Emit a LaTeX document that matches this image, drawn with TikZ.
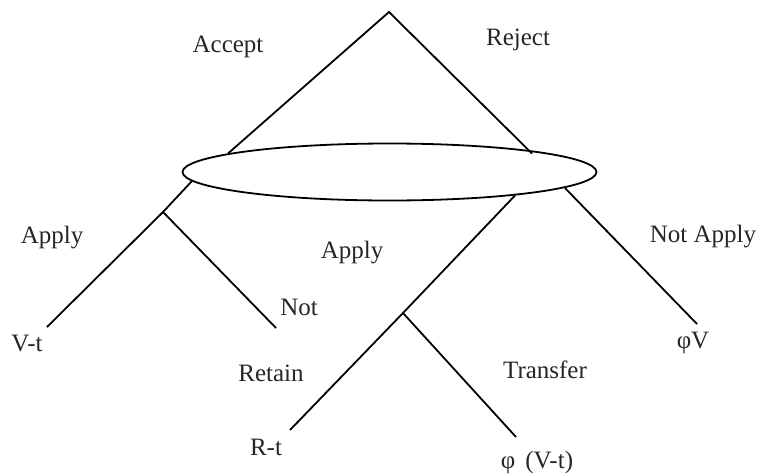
\documentclass[tikz,border=0pt]{standalone}
\usepackage{fontspec}
\setmainfont{Liberation Serif}
\usetikzlibrary{shapes.geometric}
\begin{document}
\begin{tikzpicture}[x=1pt,y=-1pt,
  branch/.style={line width=1.8pt, line cap=butt},
  lbl/.style={font=\fontsize{25}{28}\selectfont, inner sep=0pt, text=black!85}]
\useasboundingbox (0,0) rectangle (759,474);
% ellipse
\node[draw, line width=1.8pt, ellipse, minimum width=414, minimum height=57, inner sep=0pt] (E) at (389.5,172) {};
% coordinates
\coordinate (top) at (389,12);
\coordinate (eL) at (228,153.5);
\coordinate (eR) at (532,153.5);
\coordinate (bL) at (192,181);
\coordinate (bM) at (515,195.5);
\coordinate (bR) at (565,188);
\coordinate (jL) at (163,212);
\coordinate (jM) at (403,313);
\coordinate (lVt) at (47,327);
\coordinate (lNot) at (276,328);
\coordinate (lRt) at (290,430);
\coordinate (lPhiVt) at (516,437);
\coordinate (lPhiV) at (697,324);
% branches
\draw[branch] (eL) -- (top) -- (eR);
\draw[branch] (bL) -- (jL) -- (lVt);
\draw[branch] (jL) -- (lNot);
\draw[branch] (bM) -- (jM) -- (lRt);
\draw[branch] (jM) -- (lPhiVt);
\draw[branch] (bR) -- (lPhiV);
% labels
\node[lbl] (accept) at (228,47) {Accept};
\node[lbl] (reject) at (518,40) {Reject};
\node[lbl] (apply1) at (52,238) {Apply};
\node[lbl] (apply2) at (352,253) {Apply};
\node[lbl] (notapply) at (703,237) {Not Apply};
\node[lbl] (not) at (299,307) {Not};
\node[lbl] (vt) at (27,343) {V-t};
\node[lbl] (phiv) at (693,343) {φV};
\node[lbl] (retain) at (271,373) {Retain};
\node[lbl] (transfer) at (545,370) {Transfer};
\node[lbl] (rt) at (266,447) {R-t};
\node[lbl] (phivt) at (537,462) {φ\hspace{0.4em}(V-t)};
\end{tikzpicture}
\end{document}
